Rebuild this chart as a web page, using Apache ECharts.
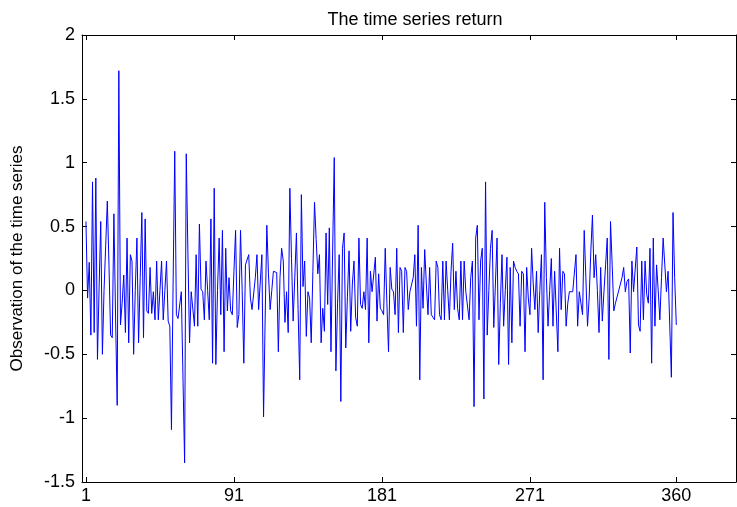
<!DOCTYPE html>
<html>
<head>
<meta charset="utf-8">
<script src="https://cdn.jsdelivr.net/npm/echarts@6/dist/echarts.min.js"></script>
<style>
html,body{margin:0;padding:0;background:#fff;}
#chart{width:737px;height:507px;}
</style>
</head>
<body>
<div id="chart"></div>
<script>
const titleText = "The time series return";
const yAxisName = "Observation of the time series";
const xTickValues = [1, 91, 181, 271, 360];
const returns = [
  0.54,-0.06,0.22,-0.35,0.85,-0.33,0.88,-0.54,0.02,0.54,
  -0.5,0.0,0.35,0.7,0.2,-0.35,-0.37,0.6,-0.2,-0.9,
  1.72,-0.27,-0.1,0.12,-0.33,0.41,-0.41,0.28,0.23,-0.5,
  0.0,0.41,-0.41,0.1,0.61,-0.37,0.56,-0.16,-0.18,0.18,
  -0.18,-0.01,-0.23,0.23,-0.23,0.0,0.23,-0.23,0.0,0.23,
  -0.24,-0.28,-1.09,0.05,1.09,-0.19,-0.22,-0.23,-0.01,-0.01,
  -1.35,1.07,0.3,-0.41,-0.01,-0.01,-0.28,0.28,-0.28,0.52,
  0.01,-0.01,-0.23,0.23,0.0,-0.23,0.56,-0.57,0.8,-0.58,
  0.0,0.41,-0.19,0.47,-0.48,0.33,-0.16,0.1,-0.16,-0.19,
  0.15,0.47,-0.29,-0.19,0.47,0.0,-0.57,0.2,0.2,0.28,
  -0.06,-0.15,-0.15,0.1,0.28,-0.15,-0.15,0.28,-0.99,-0.2,
  0.51,0.13,-0.15,0.0,0.15,0.15,0.14,-0.48,0.1,0.33,
  0.23,-0.25,-0.01,-0.33,0.8,0.25,-0.24,0.1,0.45,-0.15,
  -0.7,0.75,0.03,0.23,-0.36,-0.01,-0.06,-0.41,0.15,0.69,
  0.4,0.13,0.28,-0.41,-0.14,-0.32,0.45,-0.11,0.49,-0.48,
  0.3,1.04,-0.63,-0.1,0.28,-0.87,0.33,0.45,-0.45,-0.05,
  0.31,-0.32,0.05,0.23,-0.21,-0.28,0.41,-0.11,-0.14,-0.01,
  -0.15,0.41,-0.41,0.15,-0.01,-0.01,0.26,-0.24,0.13,-0.14,
  -0.16,-0.19,0.33,-0.1,-0.48,0.18,0.01,-0.01,-0.19,0.33,
  -0.33,0.18,0.15,-0.33,0.18,0.15,-0.15,-0.01,-0.01,0.1,
  0.28,-0.28,0.51,-0.7,0.18,-0.14,0.32,0.05,-0.19,0.18,
  -0.19,-0.21,-0.23,0.23,0.18,-0.19,-0.23,0.23,-0.23,0.23,
  0.0,-0.23,0.15,0.37,-0.15,0.15,-0.14,-0.23,0.23,-0.23,
  0.23,-0.01,-0.01,-0.23,0.1,0.23,-0.91,0.41,0.51,-0.23,
  0.23,0.33,-0.85,0.85,-0.35,0.0,0.33,0.47,-0.29,0.05,
  0.41,-0.58,-0.1,0.28,-0.28,0.0,0.26,-0.58,0.18,-0.41,
  0.23,0.18,0.15,0.13,-0.28,0.15,0.13,-0.48,0.18,-0.06,
  -0.19,0.33,0.05,-0.15,0.15,-0.33,0.0,0.28,-0.7,0.69,
  0.1,-0.28,0.0,0.25,-0.28,0.15,0.14,-0.48,0.33,-0.15,
  0.15,0.13,-0.28,-0.1,-0.01,-0.01,-0.01,-0.01,0.28,-0.28,
  -0.01,-0.02,-0.19,0.47,0.1,-0.28,-0.06,0.3,0.59,0.1,
  0.28,0.0,-0.33,0.18,-0.24,-0.01,0.2,0.41,-0.54,0.54,
  0.2,-0.16,-0.1,-0.1,0.0,0.05,0.1,0.18,-0.01,0.07,
  0.09,-0.49,0.23,-0.01,-0.01,0.34,-0.27,-0.32,0.23,-0.23,
  0.23,-0.03,-0.1,0.33,-0.57,0.41,-0.28,0.2,0.0,-0.23,
  0.1,0.41,0.2,-0.01,0.15,0.15,-0.68,0.61,0.1,-0.27
];

const seriesData = returns.map((v, i) => [i + 1, v]);
const FONT = "'Liberation Sans', Arial, sans-serif";
const X_MIN = -1.4, X_MAX = 396.3;
const Y_MIN = -1.5, Y_MAX = 2, Y_STEP = 0.5;

const chart = echarts.init(document.getElementById('chart'), null, {renderer: 'canvas'});
const axisLine = {show: true, onZero: false, lineStyle: {color: '#000', width: 1}};
const tick = {show: true, inside: true, length: 5, lineStyle: {color: '#000', width: 1}};

chart.setOption({
  animation: false,
  backgroundColor: '#fff',
  title: {
    text: titleText, left: 410, top: 6, textAlign: 'center',
    textStyle: {fontFamily: FONT, fontSize: 18, fontWeight: 'normal', color: '#000'}
  },
  grid: {left: 82, right: 1, top: 35, bottom: 25, containLabel: false},
  xAxis: [{
    type: 'value', min: X_MIN, max: X_MAX, position: 'bottom',
    axisLine: axisLine,
    axisTick: Object.assign({customValues: xTickValues}, tick),
    axisLabel: {customValues: xTickValues, color: '#000', fontFamily: FONT, fontSize: 18, margin: 5},
    splitLine: {show: false}
  }, {
    type: 'value', min: X_MIN, max: X_MAX, position: 'top',
    axisLine: axisLine,
    axisTick: Object.assign({customValues: xTickValues}, tick),
    axisLabel: {show: false},
    splitLine: {show: false}
  }],
  yAxis: [{
    type: 'value', min: Y_MIN, max: Y_MAX, interval: Y_STEP, position: 'left',
    name: yAxisName, nameLocation: 'middle', nameGap: 56, nameRotate: 90,
    nameTextStyle: {fontFamily: FONT, fontSize: 17, color: '#000'},
    axisLine: axisLine, axisTick: tick,
    axisLabel: {color: '#000', fontFamily: FONT, fontSize: 18, margin: 7},
    splitLine: {show: false}
  }, {
    type: 'value', min: Y_MIN, max: Y_MAX, interval: Y_STEP, position: 'right',
    axisLine: axisLine, axisTick: tick,
    axisLabel: {show: false},
    splitLine: {show: false}
  }],
  series: [{
    type: 'line', data: seriesData, xAxisIndex: 0, yAxisIndex: 0,
    showSymbol: false, symbol: 'none',
    lineStyle: {color: '#0000ff', width: 1},
    itemStyle: {color: '#0000ff'}
  }]
});
</script>
</body>
</html>
